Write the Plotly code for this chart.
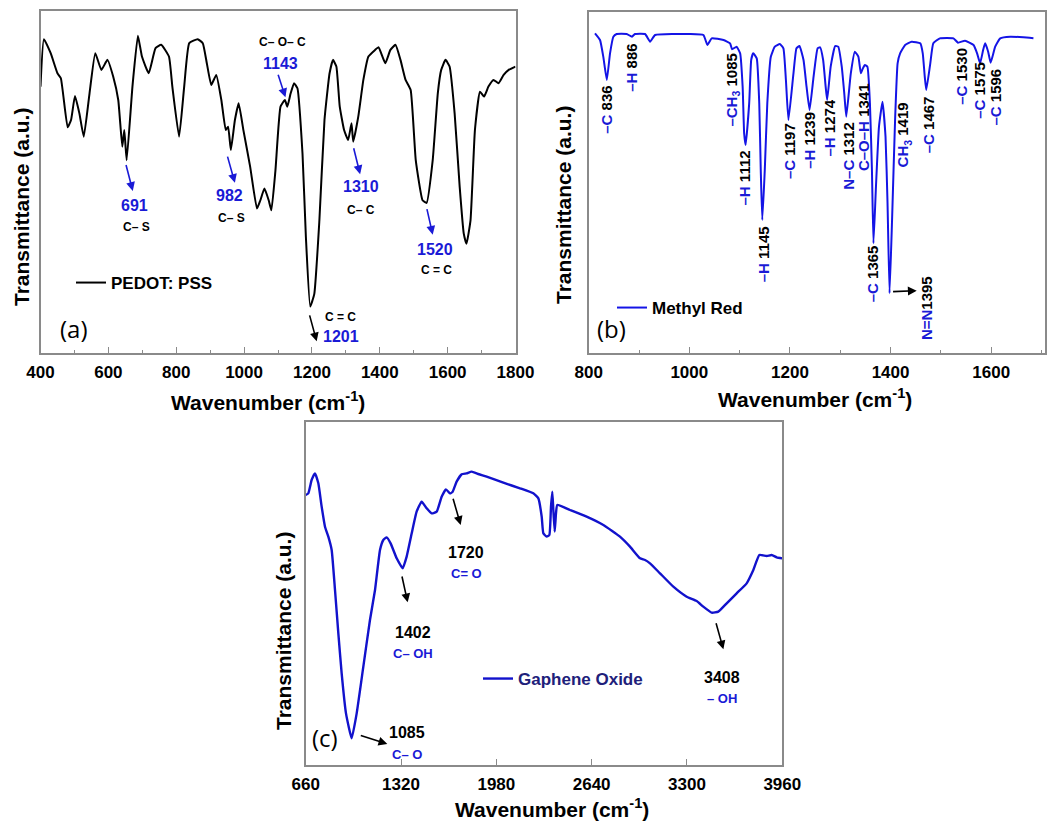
import plotly.graph_objects as go

W, H = 1054, 824
FONT = "Liberation Sans, Arial, sans-serif"
BLUE = "#1a1ad6"
NAVY = "#20207a"
FRAME = "#8a8a8a"

# ---------------- Panel (a): PEDOT:PSS ----------------
pedot_wn = [400, 410, 430, 450, 460, 480, 490, 501.6, 514.6, 527.5, 544.5, 561.4, 579.4, 597.3,
            614.2, 629.2, 641.1, 647, 654, 671, 687, 699, 719, 739, 755.7, 778.6, 788.6, 808.5,
            823.5, 838.4, 863.3, 878.3, 890.2, 903.2, 918, 933, 946, 953, 961, 973, 984, 998,
            1018, 1038, 1048, 1060, 1072.6, 1080.5, 1092.5, 1107.4, 1120.4, 1127.4, 1137.3,
            1147.3, 1157.3, 1172.2, 1182.2, 1195, 1207, 1222, 1237, 1252, 1262, 1272, 1282,
            1294.8, 1306.7, 1316.7, 1321.7, 1336.6, 1351.6, 1366.5, 1386.4, 1396.4, 1416.3,
            1431.3, 1446.2, 1461, 1476, 1491, 1506, 1526, 1538, 1556, 1571, 1581, 1593.7,
            1605.7, 1620.6, 1635.5, 1647.5, 1655.5, 1667.4, 1680.4, 1695.3, 1707.3, 1720.2,
            1735.2, 1750, 1765, 1780, 1800]
pedot_t = [80.0, 94.2, 90.0, 84.0, 82.5, 67.8, 70.0, 77.2, 72.0, 65.0, 78.0, 90.0, 85.0, 88.0,
           83.0, 76.0, 62.0, 67.0, 58.0, 80.0, 95.2, 89.0, 84.0, 91.5, 92.5, 89.0, 80.0, 65.0,
           80.0, 93.0, 94.2, 93.0, 87.0, 80.5, 83.5, 76.0, 67.0, 68.0, 61.0, 70.0, 75.0, 67.0,
           56.0, 43.5, 46.0, 49.5, 46.0, 43.0, 55.0, 74.0, 76.0, 74.0, 78.0,
           81.0, 79.5, 60.0, 35.0, 14.2, 18.0, 40.0, 70.0, 84.0, 88.0, 86.0, 74.0,
           67.0, 64.0, 69.0, 63.5, 71.0, 82.0, 89.0, 91.0, 91.8, 87.0,
           91.0, 92.5, 88.0, 82.0, 79.0, 58.0, 46.0, 45.2, 58.0, 78.0, 85.0, 88.0,
           86.0, 72.0, 50.0, 36.0, 33.0, 40.0, 67.0, 78.5, 77.0, 80.0,
           82.0, 81.0, 83.5, 85.0, 86.0]

# ---------------- Panel (b): Methyl Red ----------------
mr_wn = [812.5, 822.5, 829, 836, 842.4, 849, 855.6, 875.5, 886, 892, 912, 922, 932, 1001, 1028,
         1036, 1044.5, 1068, 1081, 1085, 1094, 1101, 1106, 1109, 1112, 1119, 1123, 1127, 1134,
         1139, 1142, 1145, 1150, 1155, 1162, 1170, 1180, 1187, 1192, 1197, 1207, 1213, 1219,
         1227, 1233, 1239, 1247, 1255, 1260, 1266, 1271, 1274, 1281, 1290, 1296, 1303, 1308,
         1312, 1321, 1329, 1336, 1341, 1345, 1349, 1354, 1359, 1363, 1366, 1371, 1377, 1384,
         1390, 1394, 1398, 1403, 1409, 1414, 1419, 1429, 1442, 1459, 1464, 1468, 1471, 1479,
         1485, 1498, 1525, 1534, 1548, 1565, 1572, 1578, 1584, 1588, 1594, 1599, 1608, 1618,
         1638, 1664, 1684]
mr_t = [96.0, 94.0, 89.0, 82.0, 90.0, 95.0, 95.8, 95.8, 95.0, 95.8, 95.8, 93.5, 95.5, 95.8, 95.5,
        92.5, 94.5, 94.0, 93.0, 91.2, 92.0, 90.0, 80.0, 66.0, 62.5, 75.0, 88.0, 90.0, 88.5,
        75.0, 55.0, 40.0, 55.0, 75.0, 89.0, 92.0, 92.8, 91.5, 82.0, 70.0, 84.0, 91.5, 92.2,
        88.0, 80.0, 73.0, 83.0, 91.5, 91.8, 88.0, 80.0, 76.0, 86.0, 92.2, 92.0, 86.0, 78.0,
        71.0, 84.0, 90.5, 89.0, 84.0, 85.5, 86.5, 86.0, 75.0, 55.0, 33.0, 50.0, 68.0, 75.5,
        65.0, 45.0, 18.0, 40.0, 70.0, 87.0, 90.0, 92.5, 93.5, 93.0, 90.0, 83.0, 79.0, 87.0,
        93.0, 94.5, 94.5, 93.2, 93.8, 92.5, 90.0, 87.0, 91.0, 93.0, 90.5, 87.2, 92.0, 94.5,
        95.0, 94.8, 94.5]

# ---------------- Panel (c): Graphene oxide ----------------
go_wn = [660, 678, 701, 724, 747.5, 770.5, 793.6, 816.7, 839.8, 862.9, 886, 909, 939, 978.3,
         1013, 1059, 1105, 1140, 1174.4, 1197.5, 1220.6, 1248, 1290, 1331.4, 1359, 1394, 1428,
         1463, 1497.6, 1532, 1567, 1601.4, 1631.4, 1659, 1677.6, 1705, 1740, 1774.5, 1809,
         1855, 1913, 2028.4, 2144, 2236, 2271, 2294, 2305.4, 2328.4, 2347, 2358.4, 2367.7,
         2374.6, 2384, 2393, 2402, 2490, 2605, 2721, 2836, 2905.5, 2975, 3009.5, 3044, 3113.2,
         3205.5, 3298, 3367, 3413, 3471, 3517, 3575, 3644, 3713.2, 3759.4, 3801, 3852, 3886.3,
         3921, 3960]
go_t = [83.5, 84.0, 88.0, 90.0, 87.0, 80.0, 74.0, 71.0, 67.0, 55.0, 42.0, 30.0, 18.0, 10.5,
        18.0, 32.0, 46.0, 55.0, 67.0, 70.0, 70.8, 69.0, 64.5, 61.5, 65.0, 72.0, 78.5,
        81.5, 79.5, 78.0, 78.5, 83.0, 85.2, 84.0, 84.5, 87.5, 89.7, 90.0, 90.5,
        89.8, 89.0, 87.2, 85.5, 84.0, 82.5, 77.0, 72.0, 71.0, 71.5, 80.0, 84.5,
        79.0, 72.5, 78.0, 80.5, 79.0, 77.0, 74.5, 71.0, 68.0, 64.5, 64.0, 63.0, 60.0,
        56.0, 53.0, 51.7, 50.0, 48.2, 48.5, 51.0, 54.0, 57.0, 61.0, 65.5, 65.2, 65.5,
        64.8, 64.5]

xticks_a = [400, 600, 800, 1000, 1200, 1400, 1600, 1800]
xticks_b = [800, 1000, 1200, 1400, 1600]
xticks_c = [660, 1320, 1980, 2640, 3300, 3960]


def px_x(p):
    return p / W


def px_y(p):
    return 1 - p / H


fig = go.Figure()
fig.add_trace(go.Scatter(x=pedot_wn, y=pedot_t, mode="lines", name="PEDOT: PSS",
                         line=dict(color="black", width=2, shape="spline", smoothing=0.4),
                         xaxis="x", yaxis="y", legend="legend"))
fig.add_trace(go.Scatter(x=mr_wn, y=mr_t, mode="lines", name="Methyl Red",
                         line=dict(color="#1414e6", width=2, shape="spline", smoothing=0.4),
                         xaxis="x2", yaxis="y2", legend="legend2"))
fig.add_trace(go.Scatter(x=go_wn, y=go_t, mode="lines", name="Gaphene Oxide",
                         line=dict(color="#1212cc", width=2.4, shape="spline", smoothing=0.4),
                         xaxis="x3", yaxis="y3", legend="legend3"))

tickfont = dict(family=FONT, size=17, color="black", weight="bold")


def xaxis(dom, rng, ticks, minor_dtick, anchor):
    d = dict(domain=dom, range=rng, tickvals=ticks, ticktext=[str(t) for t in ticks],
             showline=True, linecolor=FRAME, linewidth=1.5, mirror=True,
             ticks="inside", ticklen=6, tickwidth=1.2, tickcolor=FRAME,
             showgrid=False, zeroline=False, tickfont=tickfont, ticklabelstandoff=3,
             anchor=anchor, automargin=False, fixedrange=True)
    if minor_dtick:
        d["minor"] = dict(ticks="inside", ticklen=3, dtick=minor_dtick, tick0=0,
                          tickcolor=FRAME, showgrid=False)
    return d


def yaxis(dom, rng, anchor):
    return dict(domain=dom, range=rng, showline=True, linecolor=FRAME, linewidth=1.5,
                mirror=True, ticks="", showticklabels=False, showgrid=False,
                zeroline=False, anchor=anchor, automargin=False, fixedrange=True)


legfont = dict(family=FONT, size=17, color="black", weight="bold")
fig.update_layout(
    width=W, height=H, margin=dict(l=0, r=0, t=0, b=0),
    paper_bgcolor="white", plot_bgcolor="white",
    font=dict(family=FONT, color="black"),
    xaxis=xaxis([px_x(40.5), px_x(515.5)], [400, 1800], xticks_a, 100, "y"),
    yaxis=yaxis([px_y(353), px_y(11.4)], [0.3, 102.5], "x"),
    xaxis2=xaxis([px_x(588.7), px_x(1045)], [800, 1707], xticks_b, 100, "y2"),
    yaxis2=yaxis([px_y(353), px_y(12)], [0.1, 102.4], "x2"),
    xaxis3=xaxis([px_x(305.7), px_x(782.3)], [660, 3960], xticks_c, None, "y3"),
    yaxis3=yaxis([px_y(765), px_y(422)], [2.5, 105.4], "x3"),
    legend=dict(x=px_x(71), y=px_y(283), xanchor="left", yanchor="middle",
                bgcolor="rgba(0,0,0,0)", font=legfont),
    legend2=dict(x=px_x(612), y=px_y(308), xanchor="left", yanchor="middle",
                 bgcolor="rgba(0,0,0,0)", font=legfont),
    legend3=dict(x=px_x(478), y=px_y(679), xanchor="left", yanchor="middle",
                 bgcolor="rgba(0,0,0,0)", font=dict(family=FONT, size=17, color=NAVY, weight="bold")),
    showlegend=True,
)

ann = []


def txt(x, y, text, xr, yr, size=15, color="black", angle=0, family=FONT):
    ann.append(dict(x=x, y=y, xref=xr, yref=yr, text=text, showarrow=False,
                    xanchor="center", yanchor="middle", textangle=angle,
                    font=dict(family=family, size=size, color=color)))


def arrow(tx, ty, hx, hy, xr, yr, color):
    ann.append(dict(x=hx, y=hy, ax=tx, ay=ty, xref=xr, yref=yr, axref=xr, ayref=yr,
                    text="", showarrow=True, arrowhead=2, arrowsize=1.1, arrowwidth=1.6,
                    arrowcolor=color))


# axis titles
XT = "<b>Wavenumber (cm<sup>-1</sup>)</b>"
YT = "<b>Transmittance (a.u.)</b>"
txt(px_x(268), px_y(401), XT, "paper", "paper", size=21)
txt(px_x(22), px_y(207), YT, "paper", "paper", size=21, angle=-90)
txt(px_x(815), px_y(398), XT, "paper", "paper", size=21)
txt(px_x(563), px_y(205), YT, "paper", "paper", size=21, angle=-90)
txt(px_x(552), px_y(808), XT, "paper", "paper", size=21)
txt(px_x(283), px_y(631), YT, "paper", "paper", size=21, angle=-90)

# panel (a) annotations
txt(677, 44.5, "<b>691</b>", "x", "y", 16, BLUE)
txt(684, 38, "<b>C– S</b>", "x", "y", 12)
arrow(651, 57, 672, 48.8, "x", "y", BLUE)
txt(958, 47.5, "<b>982</b>", "x", "y", 16, BLUE)
txt(963, 40.8, "<b>C– S</b>", "x", "y", 12)
arrow(950, 59.5, 973, 51.2, "x", "y", BLUE)
txt(1112, 93.2, "<b>C– O– C</b>", "x", "y", 12)
txt(1107, 87, "<b>1143</b>", "x", "y", 16, BLUE)
arrow(1099, 84, 1122, 76.8, "x", "y", BLUE)
txt(1345, 50, "<b>1310</b>", "x", "y", 16, BLUE)
txt(1345, 43.2, "<b>C– C</b>", "x", "y", 12)
arrow(1322, 62, 1342, 53.8, "x", "y", BLUE)
txt(1563, 31.2, "<b>1520</b>", "x", "y", 16, BLUE)
txt(1566, 25.2, "<b>C = C</b>", "x", "y", 12)
arrow(1538, 43.8, 1556, 35.7, "x", "y", BLUE)
txt(1285, 11.2, "<b>C = C</b>", "x", "y", 12)
txt(1287, 5.2, "<b>1201</b>", "x", "y", 16, BLUE)
arrow(1192, 12, 1214, 3.8, "x", "y", "black")
txt(500, 7.5, "(a)", "x", "y", 24, "black", family="Open Sans, sans-serif")

# panel (b) rotated labels
b_labels = [
    ("–C", " 836", 834, 73.0), ("–H", " 886", 885, 85.8), ("–CH<sub>3</sub>", " 1085", 1084, 79.0),
    ("–H", " 1112", 1109, 52.5), ("–H", " 1145", 1147, 29.8), ("–C", " 1197", 1199, 60.8),
    ("–H", " 1239", 1240, 63.8), ("–H", " 1274", 1278, 67.5), ("N–C", " 1312", 1315, 59.2),
    ("C–O–H", " 1341", 1346, 68.0), ("–C", " 1365", 1363, 24.0), ("N=N", "1395", 1472, 13.5),
    ("CH<sub>3</sub>", " 1419", 1425.6, 65.5), ("–C", " 1467", 1475, 68.5),
    ("–C", " 1530", 1539.5, 83.2), ("–C", " 1575", 1578, 78.8), ("–C", " 1596", 1608, 76.8),
]
for pre, num, x, y in b_labels:
    txt(x, y, f"<b><span style='color:{BLUE}'>{pre}</span>{num}</b>", "x2", "y2", 15,
        "black", angle=-90)
arrow(1402, 18.5, 1452, 18.8, "x2", "y2", "black")
txt(846, 7.5, "(b)", "x2", "y2", 24, "black", family="Open Sans, sans-serif")

# panel (c) annotations
txt(1770, 66.2, "<b>1720</b>", "x3", "y3", 16)
txt(1774, 60, "<b>C= O</b>", "x3", "y3", 13, BLUE)
arrow(1677.6, 82.8, 1733, 74.5, "x3", "y3", "black")
txt(1400.6, 42.2, "<b>1402</b>", "x3", "y3", 16)
txt(1400.6, 36, "<b>C– OH</b>", "x3", "y3", 13, BLUE)
arrow(1324.5, 59.5, 1366, 51.3, "x3", "y3", "black")
txt(3540, 28.7, "<b>3408</b>", "x3", "y3", 16)
txt(3540, 22.5, "<b>– OH</b>", "x3", "y3", 13, BLUE)
arrow(3498.6, 45.5, 3552, 37.2, "x3", "y3", "black")
txt(1359, 12.2, "<b>1085</b>", "x3", "y3", 16)
txt(1359, 5.7, "<b>C– O</b>", "x3", "y3", 13, BLUE)
arrow(1031, 11.5, 1225, 8.8, "x3", "y3", "black")
txt(793.6, 10.7, "(c)", "x3", "y3", 24, "black", family="Open Sans, sans-serif")

fig.update_layout(annotations=ann)
fig.write_html("out.html")
